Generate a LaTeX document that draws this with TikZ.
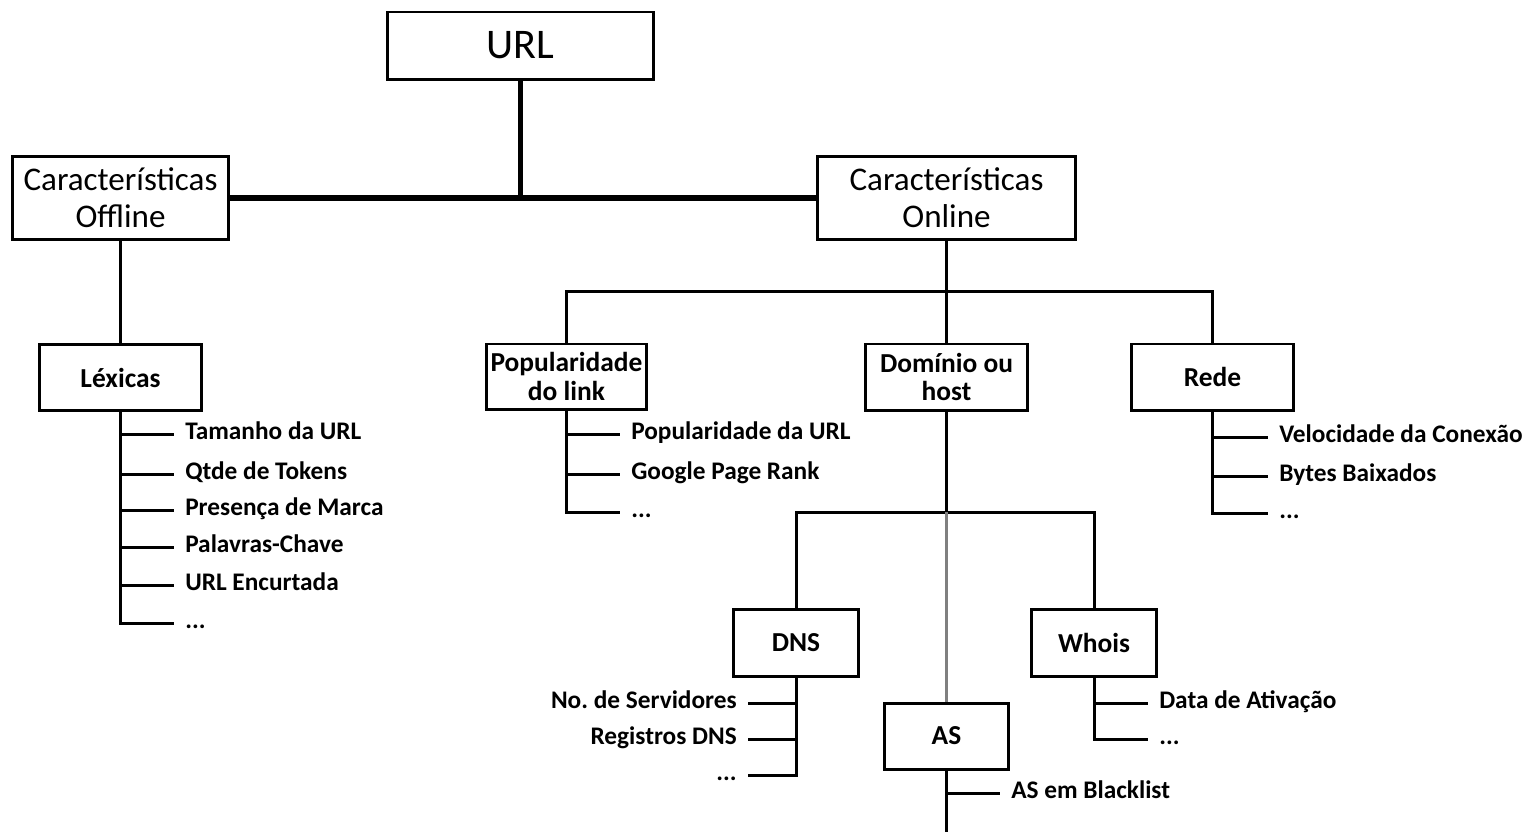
\documentclass[tikz,border=0pt]{standalone}
\usepackage{fontspec}
\setmainfont{Carlito}
\definecolor{midgray}{RGB}{128,128,128}
\frenchspacing
\begin{document}
\begin{tikzpicture}[x=0.01cm,y=-0.01cm,
  box/.style={draw, line width=0.85pt, inner sep=0pt, align=center},
  toplbl/.style={box, font=\fontsize{9.4}{10.5}\selectfont},
  midlbl/.style={box, font=\fontsize{7.8}{8.2}\selectfont\bfseries},
  leafw/.style={anchor=west, inner xsep=3pt, inner ysep=0pt, text height=4.7pt, text depth=1.4pt, font=\fontsize{7.2}{8}\selectfont\bfseries},
  leafe/.style={leafw, anchor=east},
  conn/.style={line width=0.85pt},
  mainconn/.style={line width=1.5pt},
  grayconn/.style={line width=1.1pt, draw=midgray},
]
\useasboundingbox (0,0) rectangle (1525,832);

% boxes
\node[box, minimum width=2.65cm, minimum height=0.67cm, font=\fontsize{12}{14}\selectfont] (url) at (520.5,45.5) {URL};
\node[toplbl, minimum width=2.15cm, minimum height=0.82cm] (off) at (120.5,198) {Características\\Offline};
\node[toplbl, minimum width=2.57cm, minimum height=0.82cm] (on) at (946.5,198) {Características\\Online};
\node[midlbl, minimum width=1.61cm, minimum height=0.66cm] (lex) at (120.5,377.5) {Léxicas};
\node[midlbl, minimum width=1.60cm, minimum height=0.65cm] (pop) at (566.5,376.5) {Popularidade\\do link};
\node[midlbl, minimum width=1.61cm, minimum height=0.66cm] (dom) at (946.5,377) {Domínio ou\\host};
\node[midlbl, minimum width=1.61cm, minimum height=0.66cm] (rede) at (1212.5,377) {Rede};
\node[midlbl, minimum width=1.25cm, minimum height=0.67cm] (dns) at (796,643) {DNS};
\node[midlbl, minimum width=1.24cm, minimum height=0.67cm] (whois) at (1094,642.5) {Whois};
\node[midlbl, minimum width=1.23cm, minimum height=0.66cm] (as) at (946.5,736) {AS};

% leaves
\node[leafw] (l1) at (174,434) {Tamanho da URL};
\node[leafw] (l2) at (174,474) {Qtde de Tokens};
\node[leafw] (l3) at (174,510) {Presença de Marca};
\node[leafw] (l4) at (174,547) {Palavras-Chave};
\node[leafw] (l5) at (174,585) {URL Encurtada};
\node[leafw] (l6) at (174,623) {...};

\node[leafw] (p1) at (620,434) {Popularidade da URL};
\node[leafw] (p2) at (620,474) {Google Page Rank};
\node[leafw] (p3) at (620,512) {...};

\node[leafw] (r1) at (1268,437) {Velocidade da Conexão};
\node[leafw] (r2) at (1268,476) {Bytes Baixados};
\node[leafw] (r3) at (1268,513) {...};

\node[leafe] (d1) at (748,703) {No. de Servidores};
\node[leafe] (d2) at (748,739) {Registros DNS};
\node[leafe] (d3) at (748,775) {...};

\node[leafw] (w1) at (1148,703) {Data de Ativação};
\node[leafw] (w2) at (1148,739) {...};

\node[leafw] (a1) at (1000,793) {AS em Blacklist};

% junctions
\coordinate (b0) at (url.south |- off.east);
\coordinate (b1) at (946.5,291);
\coordinate (b2) at (946.5,512);
\coordinate (asend) at (946.5,832);

% connectors
\draw[mainconn] (off.east) -- (on.west);
\draw[mainconn] (url.south) -- (b0);
\draw[conn] (off.south) -- (lex.north);
\draw[conn] (on.south) -- (b1);
\draw[conn] (pop.north) |- (b1) -| (rede.north);
\draw[conn] (b1) -- (dom.north);
\draw[conn] (dom.south) -- (b2);
\draw[conn] (dns.north) |- (b2) -| (whois.north);
\draw[grayconn] (b2) -- (as.north);

\foreach \t in {l1,l2,l3,l4,l5,l6} \draw[conn] (lex.south) |- (\t.west);
\foreach \t in {p1,p2,p3} \draw[conn] (pop.south) |- (\t.west);
\foreach \t in {r1,r2,r3} \draw[conn] (rede.south) |- (\t.west);
\foreach \t in {d1,d2,d3} \draw[conn] (dns.south) |- (\t.east);
\foreach \t in {w1,w2} \draw[conn] (whois.south) |- (\t.west);
\draw[conn] (as.south) |- (a1.west);
\draw[conn] (as.south) -- (asend);
\end{tikzpicture}
\end{document}
